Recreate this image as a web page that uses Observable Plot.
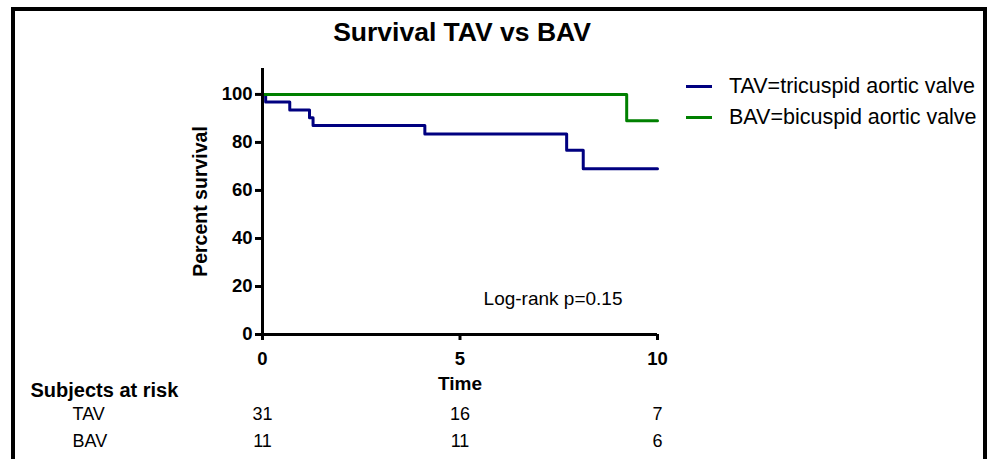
<!DOCTYPE html>
<html>
<head>
<meta charset="utf-8">
<script src="https://cdn.jsdelivr.net/npm/d3@7"></script>
<script src="https://cdn.jsdelivr.net/npm/@observablehq/plot@0.6"></script>
<style>
  html, body { margin: 0; padding: 0; background: #fff; }
  #wrap { position: relative; width: 987px; height: 459px; overflow: hidden; font-family: "Liberation Sans", Arial, sans-serif; }
  #wrap svg { position: absolute; left: 0; top: 0; }
  #border { position: absolute; left: 11px; top: 7px; width: 976px; height: 520px; box-sizing: border-box; border: 4px solid #000; border-bottom: none; pointer-events: none; }
  #legend { position: absolute; left: 686px; top: 71px; font-size: 21.5px; color: #000; }
  #legend .row { display: flex; align-items: center; height: 31px; }
  #legend .sw { width: 26px; height: 3px; margin-right: 17px; }
</style>
</head>
<body>
<div id="wrap">
  <div id="border"></div>
  <div id="legend"></div>
</div>
<script>
// ---- data ----
const tavTimes = [0, 0.08, 0.69, 1.19, 1.28, 4.11, 7.70, 8.12, 10];
const tavSurvival = [100, 96.8, 93.5, 90.3, 87.1, 83.5, 76.8, 69.0, 69.0];
const bavTimes = [0, 9.22, 10];
const bavSurvival = [100, 89.0, 89.0];
const seriesNames = ["TAV=tricuspid aortic valve", "BAV=bicuspid aortic valve"];
const seriesColors = ["#000080", "#008000"];
const riskTimes = [0, 5, 10];
const tavAtRisk = [31, 16, 7];
const bavAtRisk = [11, 11, 6];
const riskLabels = ["TAV", "BAV"];
const xTicks = [0, 5, 10];
const yTicks = [0, 20, 40, 60, 80, 100];

const tav = tavTimes.map((t, i) => ({t, s: tavSurvival[i]}));
const bav = bavTimes.map((t, i) => ({t, s: bavSurvival[i]}));
const tavRisk = riskTimes.map((t, i) => ({t, n: tavAtRisk[i]}));
const bavRisk = riskTimes.map((t, i) => ({t, n: bavAtRisk[i]}));

const font = "Liberation Sans, Arial, sans-serif";

const chart = Plot.plot({
  width: 987,
  height: 459,
  marginLeft: 262,
  marginRight: 330,
  marginTop: 68,
  marginBottom: 125,
  style: {fontFamily: font, fontSize: "18px", color: "#000", background: "transparent"},
  x: {domain: [0, 10]},
  y: {domain: [0, 110.8]},
  marks: [
    Plot.line(tav, {x: "t", y: "s", curve: "step-after", stroke: seriesColors[0], strokeWidth: 3}),
    Plot.line(bav, {x: "t", y: "s", curve: "step-after", stroke: seriesColors[1], strokeWidth: 3}),
    Plot.ruleX([0], {y1: 0, y2: 110.8, strokeWidth: 3}),
    Plot.ruleY([0], {x1: 0, x2: 10, strokeWidth: 3}),
    Plot.axisY({ticks: yTicks, tickSize: 7, tickPadding: 3, strokeWidth: 3, fontWeight: "bold", fontSize: 18.5, label: null}),
    Plot.axisX({ticks: xTicks, tickSize: 6, tickPadding: 11, strokeWidth: 3, fontWeight: "bold", fontSize: 18.5, label: null}),
    Plot.text(["Percent survival"], {frameAnchor: "left", textAnchor: "middle", lineAnchor: "middle", dx: -62, rotate: -90, fontWeight: "bold", fontSize: 19.5}),
    Plot.text(["Time"], {frameAnchor: "bottom", lineAnchor: "middle", dy: 49, fontWeight: "bold", fontSize: 19}),
    Plot.text(["Survival TAV vs BAV"], {frameAnchor: "top", lineAnchor: "middle", dx: 2, dy: -36, fontWeight: "bold", fontSize: 26.5}),
    Plot.text(["Log-rank p=0.15"], {frameAnchor: "bottom-right", textAnchor: "end", lineAnchor: "middle", dx: -35, dy: -36, fontSize: 19}),
    Plot.text(["Subjects at risk"], {frameAnchor: "bottom-left", textAnchor: "start", lineAnchor: "middle", dx: -232, dy: 56, fontWeight: "bold", fontSize: 20}),
    Plot.text([riskLabels[0]], {frameAnchor: "bottom-left", textAnchor: "start", lineAnchor: "middle", dx: -190, dy: 80, fontSize: 18}),
    Plot.text([riskLabels[1]], {frameAnchor: "bottom-left", textAnchor: "start", lineAnchor: "middle", dx: -190, dy: 107, fontSize: 18}),
    Plot.text(tavRisk, {x: "t", text: "n", frameAnchor: "bottom", lineAnchor: "middle", dy: 80, fontSize: 18}),
    Plot.text(bavRisk, {x: "t", text: "n", frameAnchor: "bottom", lineAnchor: "middle", dy: 107, fontSize: 18})
  ]
});
const wrap = document.getElementById("wrap");
wrap.insertBefore(chart, wrap.firstChild);

const legend = document.getElementById("legend");
seriesNames.forEach((name, i) => {
  const row = document.createElement("div");
  row.className = "row";
  const sw = document.createElement("span");
  sw.className = "sw";
  sw.style.background = seriesColors[i];
  const lab = document.createElement("span");
  lab.textContent = name;
  row.appendChild(sw);
  row.appendChild(lab);
  legend.appendChild(row);
});
</script>
</body>
</html>
